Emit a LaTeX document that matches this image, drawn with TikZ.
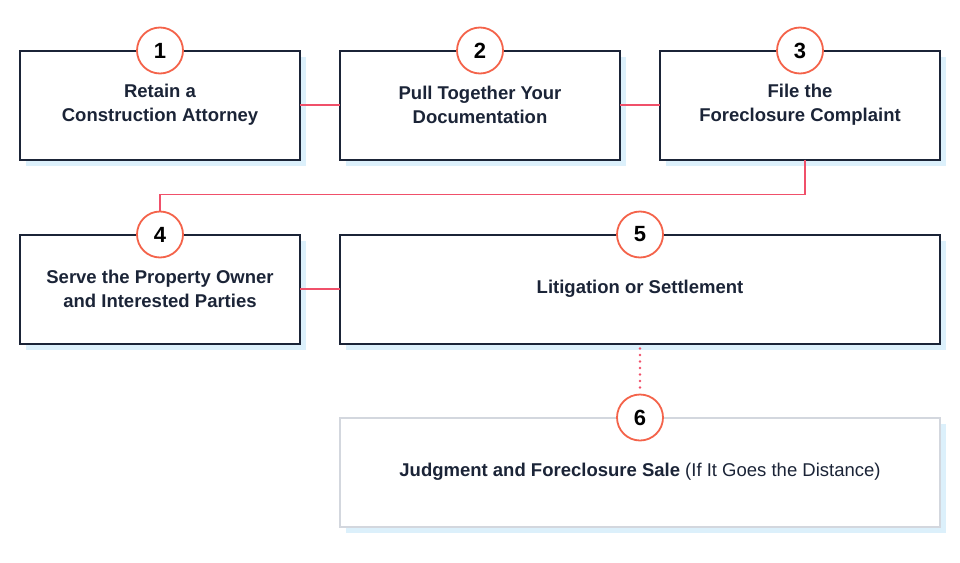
\documentclass[tikz,border=0pt]{standalone}
\usepackage{fontspec}
\setmainfont{Liberation Sans}
\usetikzlibrary{positioning, shadows, calc}

\definecolor{navy}{HTML}{1B2437}
\definecolor{linkred}{HTML}{F0506A}
\definecolor{ringred}{HTML}{F4634A}
\definecolor{shadeblue}{HTML}{DCF0FB}
\definecolor{palegray}{HTML}{D3D7DE}

\begin{document}
\begin{tikzpicture}[
    x=1pt, y=1pt,
    stepbox/.style={rectangle, draw=navy, line width=2pt, outer sep=0pt, fill=white, minimum width=280pt, minimum height=109pt, align=center, text=navy, font=\fontsize{18.5}{24}\selectfont\bfseries, drop shadow={fill=shadeblue, opacity=1, shadow xshift=6pt, shadow yshift=-6pt}},
    widebox/.style={stepbox, minimum width=600pt},
    lastbox/.style={widebox, draw=palegray},
    badge/.style={circle, draw=ringred, line width=1.8pt, outer sep=0pt, fill=white, minimum size=46pt, inner sep=0pt, font=\fontsize{22}{22}\selectfont\bfseries, text=black},
    link/.style={draw=linkred, line width=1.5pt},
    dots/.style={draw=linkred, line width=2.8pt, line cap=round, dash pattern=on 0pt off 6.5pt}
]
    \useasboundingbox (0,0) rectangle (960,-562);

    % Top row
    \node[stepbox] (retain) at (160,-105) {Retain a\\Construction Attorney};
    \node[stepbox, right=40pt of retain] (pull) {Pull Together Your\\Documentation};
    \node[stepbox, right=40pt of pull] (file) {File the\\Foreclosure Complaint};

    % Middle row
    \node[stepbox, below=75pt of retain] (serve) {Serve the Property Owner\\and Interested Parties};
    \node[widebox, right=40pt of serve] (litig) {Litigation or Settlement};

    % Last step
    \node[lastbox, below=74pt of litig] (sale) {Judgment and Foreclosure Sale {\mdseries(If It Goes the Distance)}};

    % Connectors
    \draw[link] (retain) -- (pull);
    \draw[link] (pull) -- (file);
    \draw[link] ([xshift=5pt]file.south) -- ++(0,-35) -| (serve.north);
    \draw[link] (serve) -- (litig);

    % Badges
    \node[badge] (b1) at (retain.north) {1};
    \node[badge] (b2) at (pull.north) {2};
    \node[badge] (b3) at (file.north) {3};
    \node[badge] (b4) at (serve.north) {4};
    \node[badge] (b5) at (litig.north) {5};
    \node[badge] (b6) at (sale.north) {6};

    \draw[dots] ([yshift=-5pt]litig.south) -- ([yshift=3pt]b6.north);

\end{tikzpicture}
\end{document}
